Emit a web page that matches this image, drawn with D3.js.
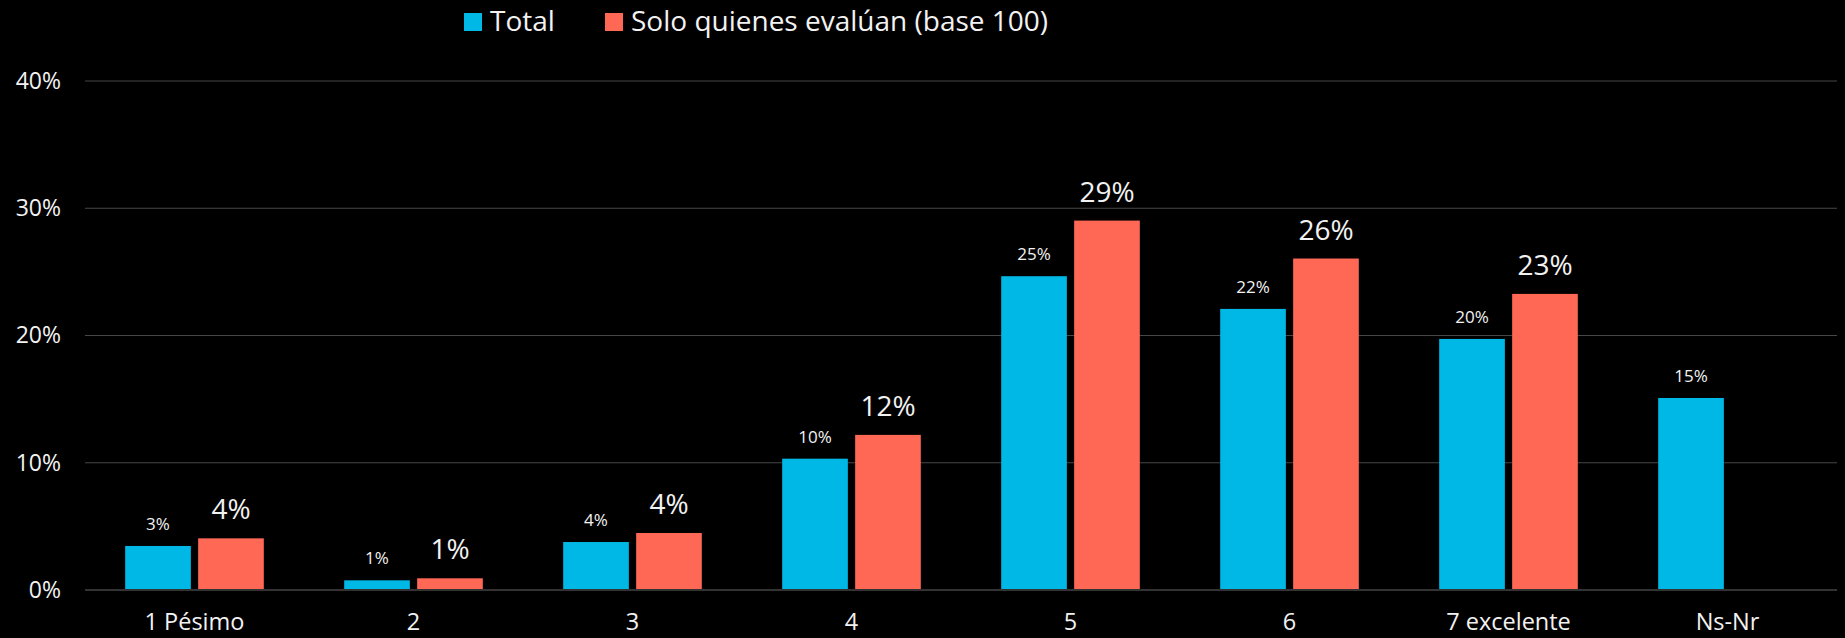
<!DOCTYPE html>
<html lang="es">
<head>
<meta charset="utf-8">
<title>Evaluación 1 a 7</title>
<script src="https://cdn.jsdelivr.net/npm/d3@7"></script>
<style>
  html, body { margin: 0; padding: 0; background: #000; }
  svg { display: block; font-family: "Open Sans", sans-serif; }
</style>
</head>
<body>
<script>
// categories and values (percent)
var categories = ["1 Pésimo", "2", "3", "4", "5", "6", "7 excelente", "Ns-Nr"];
var seriesNames = ["Total", "Solo quienes evalúan (base 100)"];
var totalValues = [3.46, 0.76, 3.77, 10.32, 24.66, 22.09, 19.73, 15.09];
var baseValues = [4.06, 0.92, 4.48, 12.19, 29.03, 26.05, 23.27, null];
var yTicks = [0, 10, 20, 30, 40];

var colors = ["#00b8e6", "#ff6855"];

var w = 1845, h = 638;
var plotLeft = 85, plotRight = 1837, plotTop = 81, plotBottom = 590;

var svg = d3.select("body").append("svg")
  .attr("width", w)
  .attr("height", h);

var x0 = d3.scaleBand()
  .domain(categories)
  .range([plotLeft, plotRight])
  .paddingInner(0.367)
  .paddingOuter(0.1835);

var x1 = d3.scaleBand()
  .domain(seriesNames)
  .range([0, x0.bandwidth()])
  .paddingInner(0.1);

var y = d3.scaleLinear()
  .domain([0, 40])
  .range([plotBottom, plotTop]);

// gridlines
svg.append("g").selectAll("line")
  .data(yTicks.filter(function(d) { return d > 0; }))
  .enter().append("line")
  .attr("x1", plotLeft).attr("x2", plotRight)
  .attr("y1", function(d) { return y(d); })
  .attr("y2", function(d) { return y(d); })
  .attr("stroke", "#474747")
  .attr("stroke-width", 1.2);

// y axis labels
var yAxis = d3.axisLeft(y)
  .tickValues(yTicks)
  .tickSize(0)
  .tickPadding(24)
  .tickFormat(function(d) { return d + "%"; });

svg.append("g")
  .attr("transform", "translate(" + plotLeft + ",0)")
  .call(yAxis)
  .call(function(g) { g.select(".domain").remove(); })
  .selectAll("text")
  .attr("fill", "#f2f2f2")
  .style("font-size", "23px")
  .style("font-family", "'Open Sans', sans-serif");

// rows of data
var rows = categories.map(function(c, i) {
  return { cat: c, vals: [totalValues[i], baseValues[i]] };
});

var groups = svg.append("g").selectAll("g")
  .data(rows)
  .enter().append("g")
  .attr("transform", function(d) { return "translate(" + x0(d.cat) + ",0)"; });

function cells(d) {
  return d.vals.map(function(v, j) { return { s: seriesNames[j], v: v, j: j }; })
    .filter(function(e) { return e.v != null; });
}

groups.selectAll("rect")
  .data(cells)
  .enter().append("rect")
  .attr("x", function(d) { return x1(d.s); })
  .attr("y", function(d) { return y(d.v); })
  .attr("width", x1.bandwidth())
  .attr("height", function(d) { return y(0) - y(d.v); })
  .attr("fill", function(d) { return colors[d.j]; });

groups.selectAll("text")
  .data(cells)
  .enter().append("text")
  .attr("x", function(d) { return x1(d.s) + x1.bandwidth() / 2; })
  .attr("y", function(d) { return y(d.v) - (d.j === 0 ? 16 : 19); })
  .attr("text-anchor", "middle")
  .attr("fill", "#f2f2f2")
  .style("font-size", function(d) { return d.j === 0 ? "17px" : "28px"; })
  .text(function(d) { return Math.round(d.v) + "%"; });

// baseline
svg.append("line")
  .attr("x1", plotLeft).attr("x2", plotRight)
  .attr("y1", y(0)).attr("y2", y(0))
  .attr("stroke", "#333")
  .attr("stroke-width", 2);

// category labels
var xAxis = d3.axisBottom(x0).tickSize(0).tickPadding(0);
svg.append("g")
  .attr("transform", "translate(0," + plotBottom + ")")
  .call(xAxis)
  .call(function(g) { g.select(".domain").remove(); })
  .selectAll("text")
  .attr("y", 40)
  .attr("dy", null)
  .attr("fill", "#f2f2f2")
  .style("font-size", "23.5px")
  .style("font-family", "'Open Sans', sans-serif");

// legend
var legend = svg.append("g");
var legendX = [464, 605];
seriesNames.forEach(function(name, i) {
  legend.append("rect")
    .attr("x", legendX[i]).attr("y", 13)
    .attr("width", 18).attr("height", 18)
    .attr("fill", colors[i]);
  legend.append("text")
    .attr("x", legendX[i] + 26).attr("y", 31)
    .attr("fill", "#f2f2f2")
    .style("font-size", "28px")
    .text(name);
});
</script>
</body>
</html>
